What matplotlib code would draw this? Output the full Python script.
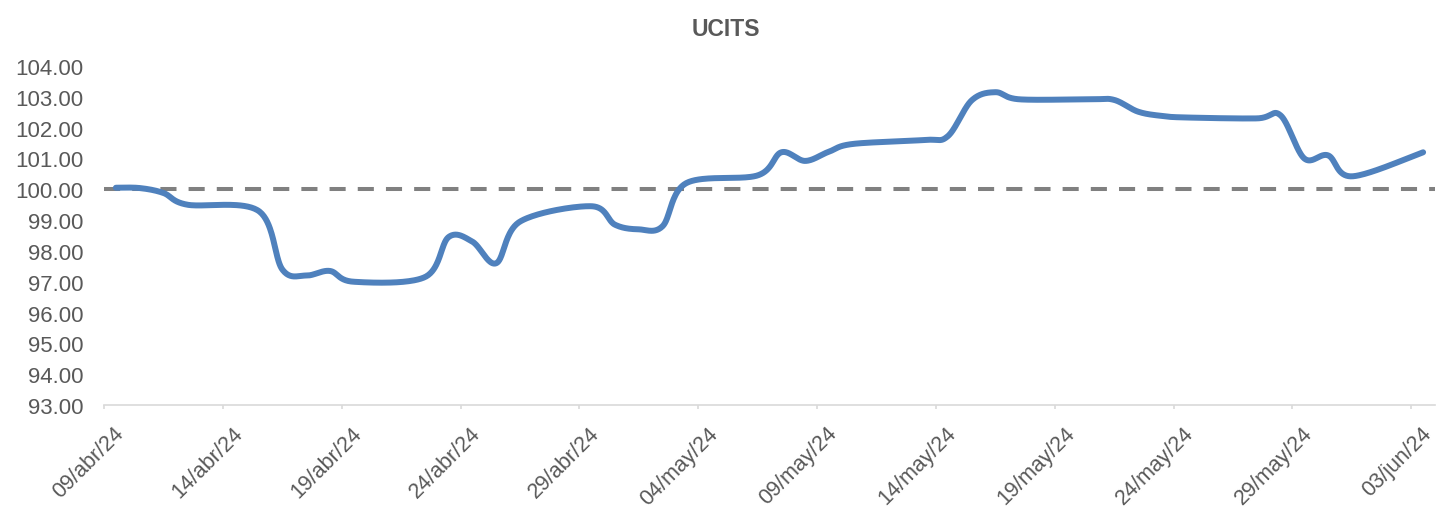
import datetime as dt
import numpy as np
import matplotlib
matplotlib.use("Agg")
import matplotlib.pyplot as plt
import matplotlib.dates as mdates
from matplotlib.transforms import ScaledTranslation

plt.rcParams['font.family'] = ['Liberation Sans', 'DejaVu Sans']

# Datos (días hábiles)
fechas = ["2024-04-09", "2024-04-10", "2024-04-11", "2024-04-12", "2024-04-15",
          "2024-04-16", "2024-04-17", "2024-04-18", "2024-04-19", "2024-04-22",
          "2024-04-23", "2024-04-24", "2024-04-25", "2024-04-26", "2024-04-29",
          "2024-04-30", "2024-05-01", "2024-05-02", "2024-05-03", "2024-05-06",
          "2024-05-07", "2024-05-08", "2024-05-09", "2024-05-10", "2024-05-13",
          "2024-05-14", "2024-05-15", "2024-05-16", "2024-05-17", "2024-05-20",
          "2024-05-21", "2024-05-22", "2024-05-23", "2024-05-24", "2024-05-27",
          "2024-05-28", "2024-05-29", "2024-05-30", "2024-05-31", "2024-06-03"]
ucits = [100.05, 100.04, 99.88, 99.50, 99.30,
         97.40, 97.20, 97.35, 97.00, 97.15,
         98.45, 98.30, 97.60, 98.95, 99.45,
         98.85, 98.70, 98.80, 100.20, 100.45,
         101.20, 100.92, 101.22, 101.47, 101.60,
         101.72, 102.88, 103.15, 102.92, 102.92,
         102.90, 102.52, 102.38, 102.33, 102.30,
         102.40, 101.00, 101.10, 100.42, 101.20]
referencia = 100.0

tick_fechas = ["2024-04-09", "2024-04-14", "2024-04-19", "2024-04-24", "2024-04-29",
               "2024-05-04", "2024-05-09", "2024-05-14", "2024-05-19", "2024-05-24",
               "2024-05-29", "2024-06-03"]
tick_labels = ["09/abr/24", "14/abr/24", "19/abr/24", "24/abr/24", "29/abr/24",
               "04/may/24", "09/may/24", "14/may/24", "19/may/24", "24/may/24",
               "29/may/24", "03/jun/24"]
y_ticks = [93, 94, 95, 96, 97, 98, 99, 100, 101, 102, 103, 104]


def to_num(s):
    return mdates.date2num(dt.datetime.strptime(s, "%Y-%m-%d"))


# Puntos centrados en el día (como el eje de fechas de Excel)
x = np.array([to_num(f) for f in fechas]) + 0.5
y = np.array(ucits)


def suavizar(x, y, n=40):
    # curva suavizada tipo Excel (Catmull-Rom -> Bezier)
    px = np.concatenate([[x[0]], x, [x[-1]]])
    py = np.concatenate([[y[0]], y, [y[-1]]])
    xs, ys = [], []
    t = np.linspace(0, 1, n)
    for i in range(1, len(px) - 2):
        p0 = np.array([px[i], py[i]])
        p1 = np.array([px[i + 1], py[i + 1]])
        c1 = p0 + (p1 - np.array([px[i - 1], py[i - 1]])) / 6
        c2 = p1 - (np.array([px[i + 2], py[i + 2]]) - p0) / 6
        b = ((1 - t) ** 3)[:, None] * p0 + (3 * (1 - t) ** 2 * t)[:, None] * c1 \
            + (3 * (1 - t) * t ** 2)[:, None] * c2 + (t ** 3)[:, None] * p1
        xs.append(b[:, 0])
        ys.append(b[:, 1])
    return np.concatenate(xs), np.concatenate(ys)


sx, sy = suavizar(x, y)

fig = plt.figure(figsize=(14.42, 5.10), dpi=100)
ax = fig.add_axes([104 / 1442, 1 - 406 / 510, (1435 - 104) / 1442, (406 - 67) / 510])

ax.axhline(referencia, color="#808080", lw=2.9, dashes=(4, 3), dash_capstyle="butt", zorder=2)
ax.plot(sx, sy, color="#4F81BD", lw=4.3, solid_capstyle="round", zorder=3)

ax.set_xlim(to_num("2024-04-09"), to_num("2024-06-04"))
ax.set_ylim(93, 104)
ax.set_yticks(y_ticks)
ax.set_yticklabels([f"{v:.2f}" for v in y_ticks])
ax.set_xticks([to_num(f) for f in tick_fechas])
ax.set_xticklabels(tick_labels, rotation=45, ha="right", va="center", rotation_mode="anchor")

for s in ["top", "right", "left"]:
    ax.spines[s].set_visible(False)
ax.spines["bottom"].set_color("#D9D9D9")
ax.spines["bottom"].set_linewidth(1.2)

ax.tick_params(axis="y", length=0, pad=15, labelsize=16, labelcolor="#595959")
ax.tick_params(axis="x", length=3, width=1.2, color="#D9D9D9", pad=15,
               labelsize=15.5, labelcolor="#595959")

desplaza = ScaledTranslation(17 / 100, 0, fig.dpi_scale_trans)
for lab in ax.get_xticklabels():
    lab.set_transform(lab.get_transform() + desplaza)

fig.text(726 / 1442, 1 - 30 / 510, "UCITS", ha="center", va="center",
         fontsize=16.5, fontweight="bold", color="#595959")

fig.savefig("out.png", dpi=100)
